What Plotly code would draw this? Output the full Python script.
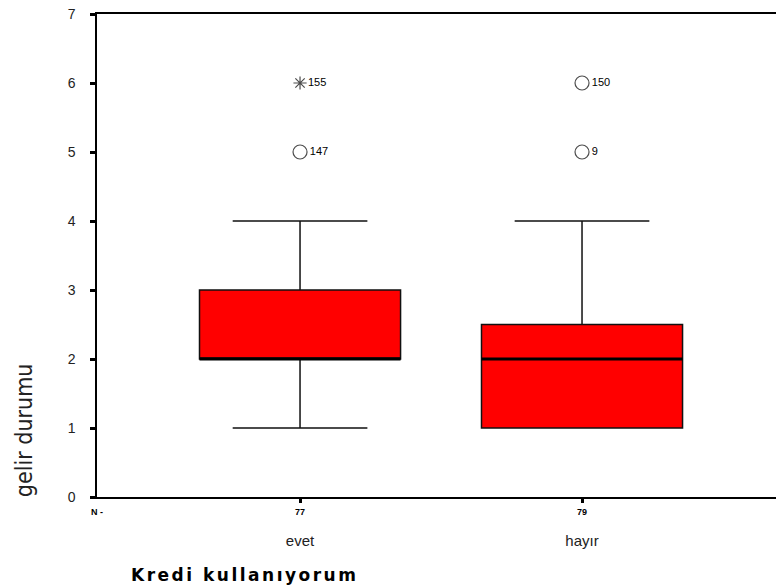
import plotly.graph_objects as go

categories = ["evet", "hayır"]
n_counts = [77, 79]
q1 = [2, 1]
median = [2, 2]
q3 = [3, 2.5]
lower_whisker = [1, 1]
upper_whisker = [4, 4]

outlier_cat = ["evet", "evet", "hayır", "hayır"]
outlier_val = [6, 5, 6, 5]
outlier_case = ["155", "147", "150", "9"]
outlier_extreme = [True, False, False, False]

FONT = "Liberation Sans, Arial, sans-serif"
BOXW = 0.713
XR = [-0.72, 1.695]

fig = go.Figure()

for i, c in enumerate(categories):
    fig.add_trace(go.Box(
        x=[c], q1=[q1[i]], median=[median[i]], q3=[q3[i]],
        lowerfence=[lower_whisker[i]], upperfence=[upper_whisker[i]],
        width=BOXW, whiskerwidth=0.67,
        fillcolor="#ff0000", line=dict(color="#111111", width=1.5),
        boxpoints=False, showlegend=False, hoverinfo="skip",
    ))
    fig.add_trace(go.Scatter(
        x=[i - BOXW / 2, i + BOXW / 2], y=[median[i], median[i]],
        xaxis="x2", mode="lines", line=dict(color="#000000", width=3),
        showlegend=False, hoverinfo="skip",
    ))

sym = ["asterisk-open" if e else "circle-open" for e in outlier_extreme]
fig.add_trace(go.Scatter(
    x=outlier_cat, y=outlier_val, mode="markers+text",
    marker=dict(symbol=sym, size=[11 if e else 14 for e in outlier_extreme],
                color="#000000", line=dict(width=1.2, color="#000000")),
    text=outlier_case, textposition="middle right",
    textfont=dict(family=FONT, size=11, color="#000000"),
    showlegend=False, hoverinfo="skip",
))

annotations = [
    dict(text="<b>N -</b>", x=XR[0], xref="x2", y=0, yref="y", yshift=-15,
         xanchor="right", yanchor="middle", xshift=8, showarrow=False,
         font=dict(family=FONT, size=9, color="#000000")),
    dict(text="gelir durumu", textangle=-90, xref="paper", yref="paper",
         x=-0.106, y=0.138, xanchor="center", yanchor="middle", showarrow=False,
         font=dict(family="Liberation Sans Narrow, DejaVu Sans Condensed, sans-serif",
                   size=23, color="#222222")),
    dict(text="<span style='letter-spacing:2.5px'><b>Kredi kullanıyorum</b></span>",
         xref="paper", yref="paper",
         x=0.2173, y=-0.161, xanchor="center", yanchor="middle", showarrow=False,
         font=dict(family="DejaVu Sans, sans-serif", size=17, color="#000000")),
]
for i, c in enumerate(categories):
    annotations.append(dict(
        text="<b>%d</b>" % n_counts[i], x=c, xref="x", y=0, yref="y",
        yshift=-15, xanchor="center", yanchor="middle", showarrow=False,
        font=dict(family=FONT, size=9, color="#000000")))

fig.update_layout(
    width=778, height=587,
    margin=dict(l=97, r=0, t=14, b=90, autoexpand=False),
    plot_bgcolor="white", paper_bgcolor="white",
    font=dict(family=FONT, color="#000000"),
    annotations=annotations,
    xaxis=dict(
        type="category", categoryorder="array", categoryarray=categories,
        range=XR, showgrid=False, zeroline=False, automargin=False,
        showline=True, linecolor="#000000", linewidth=1.5,
        ticks="outside", ticklen=4, tickwidth=3, tickcolor="#000000",
        tickfont=dict(family=FONT, size=15, color="#222222"),
        ticklabelstandoff=25,
    ),
    xaxis2=dict(range=XR, overlaying="x", side="top", showline=True,
                linecolor="#000000", linewidth=1.5, showgrid=False,
                zeroline=False, showticklabels=False, ticks="", automargin=False),
    yaxis=dict(
        range=[0, 7], dtick=1, showgrid=False, zeroline=False, automargin=False,
        showline=True, linecolor="#000000", linewidth=1.5,
        ticks="outside", ticklen=5, tickwidth=3, tickcolor="#000000",
        tickfont=dict(family=FONT, size=14, color="#222222"),
        ticklabelstandoff=12, ticklabeloverflow="allow",
    ),
)

fig.write_html("out.html",
               config={"displayModeBar": False},
               post_script="document.body.style.margin='0px';"
                           "document.body.style.overflow='hidden';")
